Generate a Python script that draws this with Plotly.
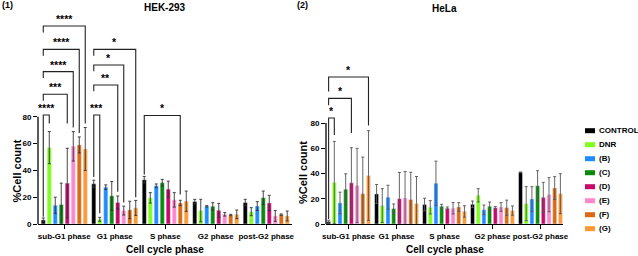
import plotly.graph_objects as go

categories = ["sub-G1 phase", "G1 phase", "S phase", "G2 phase", "post-G2 phase"]
series_names = ["CONTROL", "DNR", "(B)", "(C)", "(D)", "(E)", "(F)", "(G)"]
colors = ["#000000", "#7FFF1A", "#1E8CFF", "#0A8A0A", "#C8086A", "#FF88CC", "#DD6A12", "#FF9933"]

# HEK-293 means (%) per series, categories in order
hek_control = [3, 30, 33, 16.7, 16]
hek_dnr = [57, 3.5, 19.5, 10, 9.2]
hek_b = [14, 27.5, 28.5, 13.2, 13.4]
hek_c = [14.5, 21, 30.8, 13.2, 19.6]
hek_d = [30.5, 16, 26, 10.2, 15.7]
hek_e = [58, 10, 18, 7.2, 6]
hek_f = [59, 10.5, 15.7, 6.7, 7]
hek_g = [56, 12, 17, 7.2, 6]
# HEK-293 error (+/-)
hek_control_err = [1.5, 2.7, 2.5, 1.7, 2.4]
hek_dnr_err = [12, 1.5, 3.9, 8.4, 3]
hek_b_err = [6, 1.7, 1.4, 0.5, 3.3]
hek_c_err = [16, 10.7, 2.5, 2.7, 5]
hek_d_err = [26, 4.9, 6, 5.2, 5.7]
hek_e_err = [11, 3.3, 5.4, 1.3, 4]
hek_f_err = [6, 6.5, 2, 0.5, 0.5]
hek_g_err = [16, 5.6, 7.6, 3.2, 3.7]

# HeLa means (%)
hela_control = [2, 23.8, 15.4, 15.6, 40.9]
hela_dnr = [32.8, 14.6, 13.2, 22.7, 16.1]
hela_b = [16.7, 21.2, 32.3, 11.3, 19.8]
hela_c = [27.5, 12.2, 14, 14, 30.3]
hela_d = [32.6, 20, 12.5, 12.9, 21.1]
hela_e = [30.5, 20.6, 12.5, 13.5, 23.2]
hela_f = [24, 19.3, 13.5, 12.9, 28.5]
hela_g = [38.4, 16.1, 10, 10.6, 24]
# HeLa error (+/-)
hela_control_err = [1, 7.5, 5, 2.6, 0.3]
hela_dnr_err = [32.6, 13.4, 5.3, 5.3, 13.5]
hela_b_err = [8.5, 9.5, 17.5, 3.7, 9.8]
hela_c_err = [12.2, 3.7, 1.6, 3.4, 11.9]
hela_d_err = [27.8, 20.8, 1, 1, 11.9]
hela_e_err = [29.4, 21, 4.5, 3.4, 13.5]
hela_f_err = [29, 21.7, 3.4, 6, 9]
hela_g_err = [35.5, 21.5, 4.5, 3.7, 15.8]

hek_vals = [hek_control, hek_dnr, hek_b, hek_c, hek_d, hek_e, hek_f, hek_g]
hek_errs = [hek_control_err, hek_dnr_err, hek_b_err, hek_c_err, hek_d_err, hek_e_err, hek_f_err, hek_g_err]
hela_vals = [hela_control, hela_dnr, hela_b, hela_c, hela_d, hela_e, hela_f, hela_g]
hela_errs = [hela_control_err, hela_dnr_err, hela_b_err, hela_c_err, hela_d_err, hela_e_err, hela_f_err, hela_g_err]

# significance brackets: (category index, series from, series to, bracket level, left end, right end, label)
hek_brackets = [
    (0, 0, 1, 81.3, 5.5, 75, "****"),
    (0, 0, 4, 96.8, 92, 75, "***"),
    (0, 0, 5, 113.7, 109, 72, "****"),
    (0, 0, 6, 130.3, 125.5, 68, "****"),
    (0, 0, 7, 147.8, 143, 75, "****"),
    (1, 0, 1, 81.3, 35, 8, "***"),
    (1, 0, 4, 103.7, 99, 24, "**"),
    (1, 0, 5, 118.7, 114, 16, "*"),
    (1, 0, 7, 130.3, 125.5, 20, "*"),
    (2, 0, 6, 81, 37, 22, "*"),
]
hela_brackets = [
    (0, 0, 1, 84, 4, 70.5, "*"),
    (0, 0, 4, 99.5, 94, 72, "*"),
    (0, 0, 7, 116.4, 105, 78, "*"),
]

BARGAP = 0.05
BARGROUPGAP = 0.3
W, H = 638, 256
MT, MB = 10, 32
HEK_YMAX = 159.7
HELA_YMAX = 169.5

fig = go.Figure()
for k in range(8):
    fig.add_trace(go.Bar(
        x=list(range(5)), y=hek_vals[k], name=series_names[k], marker_color=colors[k],
        error_y=dict(type="data", array=hek_errs[k], color="#333333", thickness=0.9, width=1.5),
        xaxis="x", yaxis="y", showlegend=False))
for k in range(8):
    fig.add_trace(go.Bar(
        x=list(range(5)), y=hela_vals[k], name=series_names[k], marker_color=colors[k],
        error_y=dict(type="data", array=hela_errs[k], color="#555555", thickness=0.9, width=1.5),
        xaxis="x2", yaxis="y2", showlegend=False))

def bar_center(g, i):
    slot = (1 - BARGAP) / 8
    return g - (1 - BARGAP) / 2 + slot * (i + 0.5)

shapes = []
annotations = []
font_b = "Liberation Sans, Arial"

def add_brackets(brs, xr, yr):
    for (g, i0, i1, lvl, lend, rend, lab) in brs:
        x0 = bar_center(g, i0)
        x1 = bar_center(g, i1)
        shapes.append(dict(type="path", xref=xr, yref=yr,
                           path=f"M{x0},{lend} L{x0},{lvl} L{x1},{lvl} L{x1},{rend}",
                           line=dict(color="#222222", width=1.1)))
        annotations.append(dict(x=(x0 + x1) / 2, y=lvl, xref=xr, yref=yr, text=f"<b>{lab}</b>",
                                showarrow=False, yanchor="bottom", yshift=-1,
                                font=dict(size=10.5, color="#000000", family=font_b)))

add_brackets(hek_brackets, "x", "y")
add_brackets(hela_brackets, "x2", "y2")

# y-axis lines only from 0 to 80
shapes.append(dict(type="line", xref="x domain", yref="y domain", x0=0, x1=0, y0=0, y1=80 / HEK_YMAX,
                   line=dict(color="#000", width=1.3)))
shapes.append(dict(type="line", xref="x2 domain", yref="y2 domain", x0=0, x1=0, y0=0, y1=80 / HELA_YMAX,
                   line=dict(color="#000", width=1.3)))

ph = H - MT - MB
def py(pix):
    return 1 - (pix - MT) / ph

# legend (manual)
for k, nm in enumerate(series_names):
    yc = py(130.7 + 14 * k)
    dy = 2.5 / ph
    shapes.append(dict(type="rect", xref="paper", yref="paper", x0=585 / W, x1=595 / W,
                       y0=yc - dy, y1=yc + dy, fillcolor=colors[k], line=dict(width=0)))
    annotations.append(dict(x=597 / W, y=yc, xref="paper", yref="paper", text=f"<b>{nm}</b>",
                            showarrow=False, xanchor="left", yanchor="middle",
                            font=dict(size=8, color="#000000", family=font_b)))

texts = [
    (0, 5, "<b>(1)</b>", 9, "left", 0),
    (295, 5, "<b>(2)</b>", 9, "left", 0),
    (165, 7, "<b>HEK-293</b>", 10, "center", 0),
    (444, 8, "<b>HeLa</b>", 10, "center", 0),
    (165, 249, "<b>Cell cycle phase</b>", 10, "center", 0),
    (444.5, 249, "<b>Cell cycle phase</b>", 10, "center", 0),
    (16.5, 171, "<b>%Cell count</b>", 11, "center", -90),
    (303, 173, "<b>%Cell count</b>", 11, "center", -90),
]
for (xp, ypx, t, sz, anc, ang) in texts:
    annotations.append(dict(x=xp / W, y=py(ypx), xref="paper", yref="paper", text=t, showarrow=False,
                            xanchor=anc, yanchor="middle", textangle=ang,
                            font=dict(size=sz, color="#000000", family=font_b)))

xcommon = dict(tickmode="array", tickvals=list(range(5)), ticktext=[f"<b>{c}</b>" for c in categories],
               tickangle=0, automargin=False,
               showline=True, linecolor="#000", linewidth=1.3, ticks="outside", ticklen=4,
               tickcolor="#000", tickwidth=1.3, showgrid=False, zeroline=False,
               tickfont=dict(size=8, color="#000000", family=font_b))
ycommon = dict(tickmode="array", tickvals=[0, 20, 40, 60, 80], ticktext=[f"<b>{v}</b>" for v in [0, 20, 40, 60, 80]],
               automargin=False,
               showline=False, ticks="outside", ticklen=4, tickcolor="#000", tickwidth=1.3,
               showgrid=False, zeroline=False, tickfont=dict(size=8, color="#000000", family=font_b))

fig.update_layout(
    width=W, height=H, margin=dict(l=0, r=0, t=MT, b=MB),
    paper_bgcolor="white", plot_bgcolor="white",
    barmode="group", bargap=BARGAP, bargroupgap=BARGROUPGAP,
    xaxis=dict(domain=[38 / W, 292 / W], range=[-0.52, 4.51], anchor="y", **xcommon),
    yaxis=dict(domain=[0, 1], range=[0, HEK_YMAX], anchor="x", **ycommon),
    xaxis2=dict(domain=[326 / W, 563 / W], range=[-0.47, 4.47], anchor="y2", **xcommon),
    yaxis2=dict(domain=[0, 1], range=[0, HELA_YMAX], anchor="x2", **ycommon),
    shapes=shapes, annotations=annotations, showlegend=False,
)

fig.write_html("out.html", config={"displayModeBar": False},
               post_script="document.body.style.margin='0';document.body.style.overflow='hidden';")
